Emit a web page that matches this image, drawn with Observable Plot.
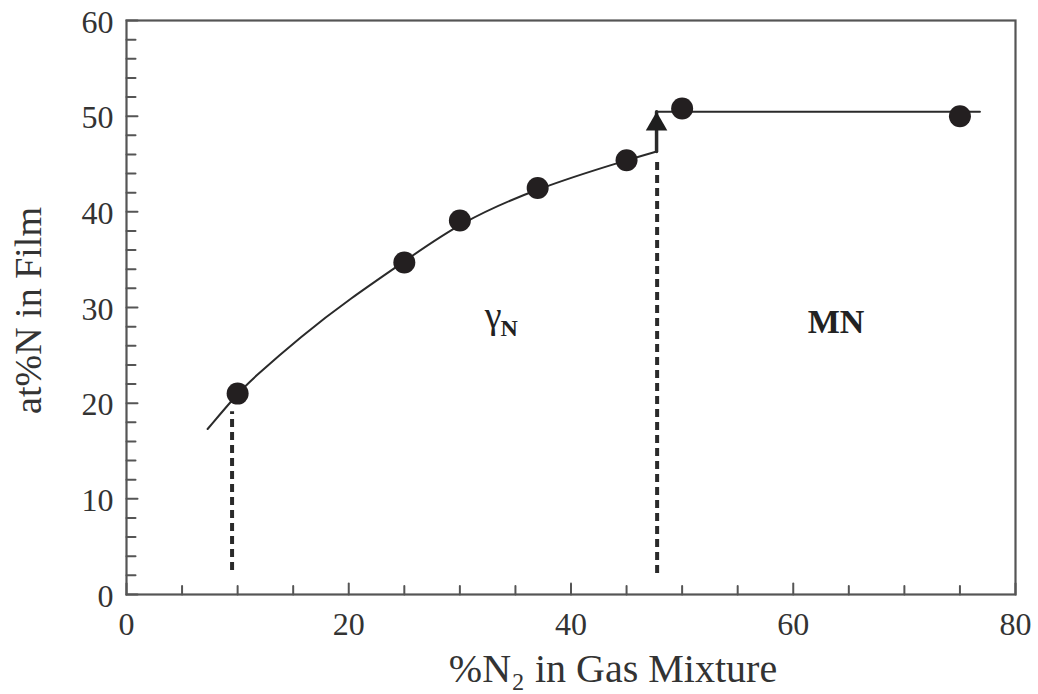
<!DOCTYPE html>
<html>
<head>
<meta charset="utf-8">
<script src="https://cdn.jsdelivr.net/npm/d3@7"></script>
<script src="https://cdn.jsdelivr.net/npm/@observablehq/plot@0.6"></script>
<style>
  html, body { margin: 0; padding: 0; background: #fff; }
</style>
</head>
<body>
<div id="chart"></div>
<script>
// Measured nitrogen content of the film against the N2 share of the gas
const gasN2 = [10, 25, 30, 37, 45, 50, 75];
const filmN = [21.0, 34.7, 39.1, 42.5, 45.4, 50.8, 50.0];

// Guide curve through the gamma-N region
const curveX = [7.3, 10, 11.2, 15.7, 20.2, 25, 30, 37, 45, 47.7];
const curveY = [17.3, 21.0, 22.4, 27.0, 31.0, 34.8, 38.9, 42.5, 45.4, 46.3];

// Jump up to the MN plateau
const stepX = [47.7, 47.7];
const stepY = [46.3, 50.45];
const plateauX = [47.7, 76.8];
const plateauY = [50.45, 50.45];

// Dashed phase boundaries
const boundaryX = [9.5, 47.75];
const boundaryTop = [19.1, 45.6];
const boundaryBottom = [2.5, 2.2];

// Phase labels
const phaseName = ["γ", "MN"];
const phaseX = [33.0, 63.85];
const phaseY = [27.9, 27.3];
const phaseSub = ["N"];
const phaseSubX = [33.66];
const phaseSubY = [27.0];

// Axis ticks and titles
const xMajor = [0, 20, 40, 60, 80];
const xMinor = [5, 10, 15, 25, 30, 35, 45, 50, 55, 65, 70, 75];
const yMajor = [0, 10, 20, 30, 40, 50, 60];
const yMinor = [2, 4, 6, 8, 12, 14, 16, 18, 22, 24, 26, 28, 32, 34, 36, 38, 42, 44, 46, 48, 52, 54, 56, 58];
const xTitle = "%N₂ in Gas Mixture";
const yTitle = "at%N in Film";

const points = gasN2.map((x, i) => ({x, y: filmN[i]}));
const curve = curveX.map((x, i) => ({x, y: curveY[i]}));
const step = stepX.map((x, i) => ({x, y: stepY[i]}));
const plateau = plateauX.map((x, i) => ({x, y: plateauY[i]}));
const boundaries = boundaryX.map((x, i) => ({x, y1: boundaryBottom[i], y2: boundaryTop[i]}));
const phases = phaseName.map((t, i) => ({t, x: phaseX[i], y: phaseY[i]}));
const subs = phaseSub.map((t, i) => ({t, x: phaseSubX[i], y: phaseSubY[i]}));

// Inward tick: a straight stroke from the anchor
const tickShape = {draw(context, l) { context.moveTo(0, 0); context.lineTo(0, -l); }};
const ink = "#2a2a2a";
const axisInk = "#555";

const chart = Plot.plot({
  width: 1038,
  height: 694,
  marginLeft: 126,
  marginRight: 23,
  marginTop: 20,
  marginBottom: 100,
  x: {domain: [0, 80]},
  y: {domain: [0, 60]},
  style: {fontFamily: '"Liberation Serif", "Times New Roman", serif', background: "#fff", color: "#333"},
  marks: [
    Plot.frame({stroke: axisInk, strokeWidth: 2.2}),
    // ticks pointing into the plot
    Plot.vector(xMajor, {x: d => d, y: () => 0, length: 11, rotate: 0, anchor: "start", shape: tickShape, stroke: axisInk, strokeWidth: 2}),
    Plot.vector(xMinor, {x: d => d, y: () => 0, length: 8.5, rotate: 0, anchor: "start", shape: tickShape, stroke: axisInk, strokeWidth: 2}),
    Plot.vector(yMajor, {x: () => 0, y: d => d, length: 11, rotate: 90, anchor: "start", shape: tickShape, stroke: axisInk, strokeWidth: 2}),
    Plot.vector(yMinor, {x: () => 0, y: d => d, length: 9, rotate: 90, anchor: "start", shape: tickShape, stroke: axisInk, strokeWidth: 2}),
    Plot.axisX(xMajor, {tickSize: 0, tickPadding: 18, fontSize: 32, label: null, fill: "#333"}),
    Plot.axisY(yMajor, {tickSize: 0, tickPadding: 13, fontSize: 32, label: null, fill: "#333", dy: 2}),
    Plot.text([xTitle], {frameAnchor: "bottom", textAnchor: "middle", lineAnchor: "bottom", dx: 42, dy: 87, fontSize: 40, fill: "#333"}),
    Plot.text([yTitle], {frameAnchor: "left", textAnchor: "middle", lineAnchor: "bottom", rotate: -90, dx: -86, dy: 3, fontSize: 38, fill: "#333"}),
    // dashed phase boundaries
    Plot.ruleX(boundaries, {x: "x", y1: "y1", y2: "y2", stroke: ink, strokeWidth: 4, strokeDasharray: "8,5"}),
    // guide curve, jump and plateau
    Plot.line(curve, {x: "x", y: "y", curve: "basis", stroke: ink, strokeWidth: 2}),
    Plot.line(step, {x: "x", y: "y", stroke: ink, strokeWidth: 3.5}),
    Plot.dot(step.slice(1), {x: "x", y: "y", symbol: "triangle", r: 8, fill: "#1e1e1e", stroke: "none", dy: 12.4}),
    Plot.line(plateau, {x: "x", y: "y", stroke: ink, strokeWidth: 2}),
    // measurements
    Plot.dot(points, {x: "x", y: "y", r: 11, fill: "#231f20", stroke: "none"}),
    // phase labels
    Plot.text(phases.slice(0, 1), {x: "x", y: "y", text: "t", lineAnchor: "bottom", fontSize: 38, fill: "#222"}),
    Plot.text(subs, {x: "x", y: "y", text: "t", lineAnchor: "bottom", textAnchor: "start", fontSize: 24, fontWeight: "bold", fill: "#222"}),
    Plot.text(phases.slice(1), {x: "x", y: "y", text: "t", lineAnchor: "bottom", fontSize: 34, fontWeight: "bold", fill: "#222"})
  ]
});

document.getElementById("chart").appendChild(chart);
</script>
</body>
</html>
